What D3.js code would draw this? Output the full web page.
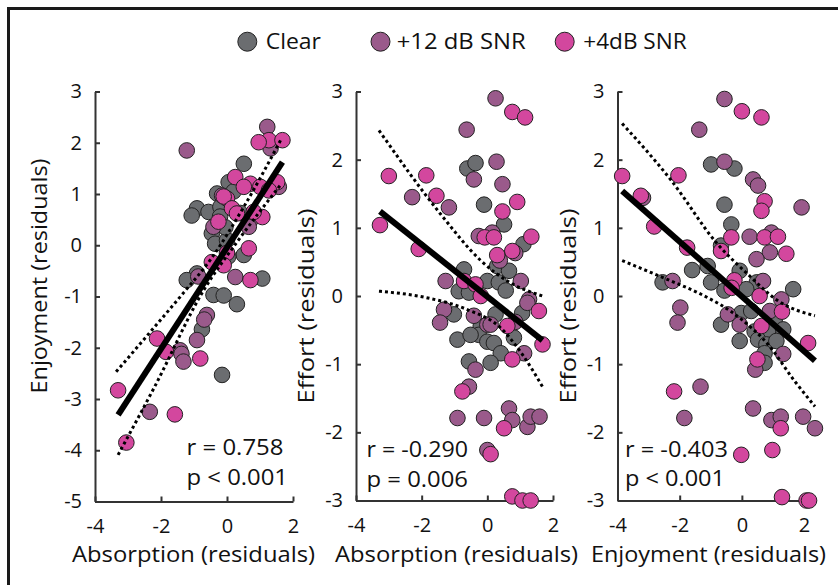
<!DOCTYPE html>
<html>
<head>
<meta charset="utf-8">
<script src="https://cdn.jsdelivr.net/npm/d3@7"></script>
<style>
  html, body { margin: 0; padding: 0; background: #fff; }
  svg { display: block; }
  text { font-family: "Open Sans", "Noto Sans", sans-serif; fill: #111; }
</style>
</head>
<body>
<svg id="chart" width="838" height="585"></svg>
<script>
// ---------------- DATA ----------------
const groups = ["Clear", "+12 dB SNR", "+4dB SNR"];
const groupColors = ["#6b6d70", "#9a5a8b", "#d3479e"];

const xTicks = [-4, -2, 0, 2];
const yTicksEnjoy = [-5, -4, -3, -2, -1, 0, 1, 2, 3];
const yTicksEffort = [-3, -2, -1, 0, 1, 2, 3];

const xTitles = ["Absorption (residuals)", "Absorption (residuals)", "Enjoyment (residuals)"];
const yTitles = ["Enjoyment (residuals)", "Effort (residuals)", "Effort (residuals)"];
const rTexts = ["r = 0.758", "r = -0.290", "r = -0.403"];
const pTexts = ["p < 0.001", "p = 0.006", "p < 0.001"];

// Panel 1: Absorption vs Enjoyment
const p1Clear = [[0.51,1.59],[0.05,1.23],[-0.30,1.01],[-0.91,0.72],[-1.07,0.58],[-0.56,0.65],[-0.20,0.75],[0.40,0.63],[-0.21,0.56],[-0.46,0.23],[-0.36,0.03],[0.0,0.10],[0.51,-0.19],[0.04,-0.22],[1.07,-0.65],[-0.91,-0.55],[-1.22,-0.68],[-0.41,-0.97],[-0.10,-0.98],[0.30,-1.15],[-0.76,-1.64],[-0.15,-2.53],[0.20,1.05],[-0.05,0.35]];
const p1Snr12 = [[1.22,2.31],[1.32,1.89],[-1.22,1.85],[1.57,1.14],[-0.15,0.97],[0.71,0.49],[0.66,0.36],[-0.41,0.36],[0.25,-0.62],[-0.87,-0.61],[-0.61,-1.36],[-0.69,-1.45],[-0.91,-1.85],[-1.42,-2.05],[-1.38,-2.12],[-1.32,-2.27],[-2.34,-3.25]];
const p1Snr4 = [[1.27,2.05],[0.96,2.01],[1.68,2.05],[0.25,1.33],[0.71,1.20],[0.51,1.14],[1.52,1.23],[1.01,1.14],[1.27,1.07],[0.0,0.91],[-0.10,0.95],[0.15,0.72],[0.30,0.62],[1.07,0.55],[0.81,0.65],[-0.26,0.46],[0.66,-0.06],[0.0,-0.15],[-0.46,-0.33],[-0.10,-0.39],[0.71,-0.68],[-2.12,-1.82],[-1.85,-2.08],[-0.81,-2.21],[-3.30,-2.83],[-1.58,-3.30],[-3.05,-3.85]];
const p1Fit = [[-3.30,-3.31],[1.68,1.62]];
const p1Upper = [[-3.36,-2.47],[-2.23,-1.62],[-1.32,-0.93],[-0.5,-0.28],[0.51,0.75],[1.65,2.08]];
const p1Lower = [[-3.30,-4.09],[-2.2,-2.77],[-0.71,-0.88],[0.3,0.06],[1.65,1.20]];

// Panel 2: Absorption vs Effort
const p2Clear = [[-0.61,1.87],[-0.36,1.95],[-0.10,1.34],[0.51,1.05],[1.10,0.76],[0.30,0.44],[0.66,0.37],[-0.71,0.39],[0.0,0.22],[0.35,0.20],[0.56,0.08],[-0.87,0.07],[-0.56,0.05],[-1.02,-0.27],[-0.91,-0.64],[-0.20,-0.44],[0.25,-0.27],[-0.26,-0.57],[0.0,-0.67],[0.20,-0.69],[-0.51,-0.57],[0.81,-0.61],[1.06,-0.25],[0.41,-0.84],[0.10,-0.98],[-0.56,-0.96]];
const p2Snr12 = [[0.25,2.90],[-0.63,2.44],[0.28,1.97],[-0.41,1.71],[0.46,1.64],[-2.29,1.45],[-1.17,1.30],[0.15,0.93],[-0.26,0.88],[0.85,0.63],[0.38,0.52],[-1.27,0.22],[1.02,0.22],[1.27,-0.05],[-1.32,-0.20],[-1.44,-0.39],[-0.41,-0.29],[0.0,-0.42],[0.10,-0.42],[0.85,-0.38],[1.22,-0.10],[1.12,-0.84],[-0.36,-1.08],[-0.56,-1.33],[-0.91,-1.79],[-0.10,-1.79],[0.66,-1.65],[0.76,-1.82],[1.22,-1.92],[1.32,-1.77],[1.59,-1.77],[0.0,-2.26]];
const p2Snr4 = [[0.76,2.70],[1.15,2.62],[-3.00,1.76],[-1.86,1.77],[-1.55,1.47],[0.91,1.38],[0.46,1.24],[-3.27,1.04],[-0.08,0.86],[0.20,0.86],[1.34,0.87],[-2.09,0.69],[0.76,0.66],[0.30,0.60],[-0.71,0.22],[-0.36,0.17],[-0.20,0.0],[0.61,-0.44],[1.57,-0.22],[1.68,-0.71],[0.76,-0.93],[-0.76,-1.40],[0.51,-1.94],[0.10,-2.32],[0.76,-2.94],[1.07,-3.00],[1.32,-3.00]];
const p2Fit = [[-3.27,1.24],[1.68,-0.65]];
const p2Upper = [[-3.30,2.43],[-1.42,1.20],[-0.20,0.52],[0.61,0.22],[1.68,0.0]];
const p2Lower = [[-3.30,0.07],[-1.9,-0.02],[-0.61,-0.20],[0.41,-0.47],[1.07,-0.86],[1.68,-1.33]];

// Panel 3: Enjoyment vs Effort
const p3Clear = [[-0.99,1.93],[-0.24,1.87],[-0.56,1.34],[-0.34,1.05],[-0.67,0.74],[-1.60,0.38],[-1.10,0.44],[-0.07,0.37],[-0.99,0.20],[-2.55,0.20],[0.48,0.20],[1.65,0.10],[-0.56,0.08],[0.14,0.10],[-0.67,-0.42],[-0.02,-0.25],[0.30,-0.22],[1.06,-0.34],[0.41,-0.52],[0.84,-0.52],[1.33,-0.49],[-0.07,-0.66],[0.52,-0.64],[0.79,-0.71],[1.11,-0.66],[0.73,-0.84],[0.73,-0.98]];
const p3Snr12 = [[-0.56,2.89],[-1.37,2.44],[-0.56,1.97],[0.36,1.71],[0.52,1.62],[-3.18,1.44],[1.92,1.30],[0.25,0.87],[0.95,0.93],[0.90,0.64],[0.47,0.54],[-2.23,0.22],[0.68,0.22],[1.27,-0.05],[-1.98,-0.17],[-2.07,-0.39],[-0.45,-0.27],[-0.07,-0.42],[0.90,-0.22],[1.33,-0.85],[0.43,-1.08],[-1.33,-1.33],[-1.85,-1.79],[0.36,-1.65],[0.95,-1.82],[1.25,-1.77],[1.97,-1.77],[2.35,-1.94]];
const p3Snr4 = [[0.0,2.71],[0.63,2.62],[-3.85,1.76],[-2.04,1.77],[-3.25,1.47],[0.73,1.39],[0.63,1.25],[-2.82,1.02],[-0.34,0.86],[0.73,0.86],[1.16,0.87],[1.43,0.62],[-1.76,0.71],[-0.67,0.66],[-0.24,0.23],[-0.33,0.12],[0.57,0.0],[1.29,-0.23],[0.63,-0.44],[2.13,-0.69],[0.50,-0.93],[-2.18,-1.40],[1.25,-1.94],[-0.02,-2.33],[0.98,-2.26],[1.29,-2.95],[2.08,-3.00],[2.16,-3.00]];
const p3Fit = [[-3.85,1.54],[2.35,-0.95]];
const p3Upper = [[-3.85,2.53],[-2.28,1.70],[-0.78,0.76],[0.19,0.32],[1.16,-0.07],[2.35,-0.29]];
const p3Lower = [[-3.85,0.52],[-2.28,0.22],[-1.42,0.05],[-0.02,-0.34],[0.84,-0.71],[1.70,-1.25],[2.35,-1.62]];

// ---------------- LAYOUT ----------------
const panels = [
  { xDom: [-4, 2],   xRange: [95, 293],    yDom: [-5, 3], yRange: [501.5, 91.5], yTicks: yTicksEnjoy,
    series: [p1Clear, p1Snr12, p1Snr4], fit: p1Fit, upper: p1Upper, lower: p1Lower,
    yLab: { x: 46.5, y: 276, len: 235 }, xLab: { x: 193.5, len: 243 },
    stat: { x: 186.5, rLen: 97, pLen: 101.5, ry: 455, py: 485 } },
  { xDom: [-4, 2],   xRange: [356, 553],   yDom: [-3, 3], yRange: [500.5, 91.5], yTicks: yTicksEffort,
    series: [p2Clear, p2Snr12, p2Snr4], fit: p2Fit, upper: p2Upper, lower: p2Lower,
    yLab: { x: 314, y: 306, len: 195 }, xLab: { x: 456.5, len: 243 },
    stat: { x: 366.5, rLen: 101.5, pLen: 101.5, ry: 456.5, py: 486.5 } },
  { xDom: [-4, 2.4], xRange: [617.5, 816.5], yDom: [-3, 3], yRange: [500.5, 91.5], yTicks: yTicksEffort,
    series: [p3Clear, p3Snr12, p3Snr4], fit: p3Fit, upper: p3Upper, lower: p3Lower,
    yLab: { x: 575.5, y: 306, len: 195 }, xLab: { x: 708.5, len: 235 },
    stat: { x: 625, rLen: 103, pLen: 100, ry: 456.5, py: 486 } }
];

const svg = d3.select("#chart");

// outer frame
svg.append("rect").attr("x", 8.5).attr("y", 8.5).attr("width", 900).attr("height", 700)
  .attr("fill", "none").attr("stroke", "#1a1a1a").attr("stroke-width", 3);

// legend
const legendPos = [
  { cx: 247.3, tx: 265.7, len: 55.3 },
  { cx: 380.5, tx: 396.7, len: 129 },
  { cx: 564.7, tx: 583.3, len: 103.3 }
];
groups.forEach((g, i) => {
  svg.append("circle").attr("cx", legendPos[i].cx).attr("cy", 41.7).attr("r", 9.5)
    .attr("fill", groupColors[i]).attr("stroke", "#222").attr("stroke-width", 1);
  svg.append("text").attr("x", legendPos[i].tx).attr("y", 49.3)
    .attr("font-size", 22.5).attr("textLength", legendPos[i].len).attr("lengthAdjust", "spacingAndGlyphs")
    .text(g);
});

const fmt = d => String(d);

panels.forEach((p, pi) => {
  const x = d3.scaleLinear().domain(p.xDom).range(p.xRange);
  const y = d3.scaleLinear().domain(p.yDom).range(p.yRange);
  const g = svg.append("g");

  // axes
  const yAx = g.append("g").attr("transform", `translate(${p.xRange[0]},0)`)
    .call(d3.axisLeft(y).tickValues(p.yTicks).tickFormat(fmt).tickSizeInner(-5).tickSizeOuter(0).tickPadding(13));
  const xAx = g.append("g").attr("transform", `translate(0,${p.yRange[0]})`)
    .call(d3.axisBottom(x).tickValues(xTicks).tickFormat(fmt).tickSizeInner(-5).tickSizeOuter(0).tickPadding(17.5));
  [yAx, xAx].forEach(ax => {
    ax.select(".domain").attr("stroke", "#333").attr("stroke-width", 2);
    ax.selectAll(".tick line").attr("stroke", "#333").attr("stroke-width", 2);
    ax.selectAll(".tick text").attr("font-size", 20).attr("fill", "#111")
      .attr("font-family", '"Open Sans", "Noto Sans", sans-serif');
  });

  // points
  p.series.forEach((s, si) => {
    g.append("g").selectAll("circle").data(s).join("circle")
      .attr("cx", d => x(d[0])).attr("cy", d => y(d[1])).attr("r", 7.8)
      .attr("fill", groupColors[si]).attr("stroke", "#222").attr("stroke-width", 1);
  });

  // confidence bands (dotted)
  const bandLine = d3.line().x(d => x(d[0])).y(d => y(d[1])).curve(d3.curveMonotoneX);
  [p.upper, p.lower].forEach(b => {
    g.append("path").attr("d", bandLine(b)).attr("fill", "none")
      .attr("stroke", "#000").attr("stroke-width", 3).attr("stroke-dasharray", "3,3");
  });

  // fit line
  const fitLine = d3.line().x(d => x(d[0])).y(d => y(d[1]));
  g.append("path").attr("d", fitLine(p.fit)).attr("fill", "none")
    .attr("stroke", "#000").attr("stroke-width", 6);

  // axis titles
  g.append("text").attr("x", p.xLab.x).attr("y", 561.7).attr("text-anchor", "middle")
    .attr("font-size", 21.5).attr("textLength", p.xLab.len).attr("lengthAdjust", "spacingAndGlyphs")
    .text(xTitles[pi]);
  g.append("text").attr("transform", `translate(${p.yLab.x},${p.yLab.y}) rotate(-90)`)
    .attr("text-anchor", "middle").attr("font-size", 21.5)
    .attr("textLength", p.yLab.len).attr("lengthAdjust", "spacingAndGlyphs")
    .text(yTitles[pi]);

  // statistics
  g.append("text").attr("x", p.stat.x).attr("y", p.stat.ry).attr("font-size", 22.5)
    .attr("textLength", p.stat.rLen).attr("lengthAdjust", "spacingAndGlyphs").text(rTexts[pi]);
  g.append("text").attr("x", p.stat.x).attr("y", p.stat.py).attr("font-size", 22.5)
    .attr("textLength", p.stat.pLen).attr("lengthAdjust", "spacingAndGlyphs").text(pTexts[pi]);
});
</script>
</body>
</html>
